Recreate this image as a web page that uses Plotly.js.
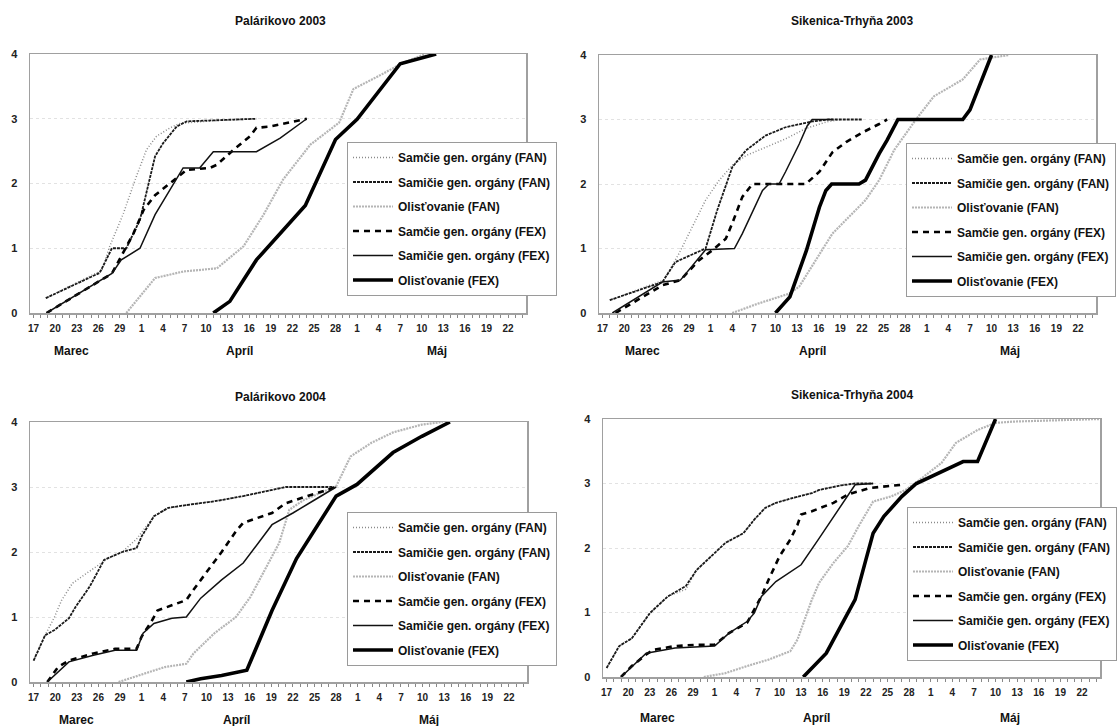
<!DOCTYPE html>
<html>
<head>
<meta charset="utf-8">
<script src="https://cdn.plot.ly/plotly-3.0.1.min.js"></script>
<style>html,body{margin:0;padding:0;background:#fff;}#chart{width:1120px;height:726px;}</style>
</head>
<body>
<div id="chart"></div>
<script>
// x = days after 17 March (0 = 17 Mar, 15 = 1 Apr, 45 = 1 May)
const xTickVals = [0,3,6,9,12,15,18,21,24,27,30,33,36,39,42,45,48,51,54,57,60,63,66];
const xTickText = ['17','20','23','26','29','1','4','7','10','13','16','19','22','25','28','1','4','7','10','13','16','19','22'];
const monthNames = ['Marec','Apríl','Máj'];
const seriesNames = ['Samčie gen. orgány (FAN)','Samičie gen. orgány (FAN)','Olisťovanie (FAN)',
                     'Samčie gen. orgány (FEX)','Samičie gen. orgány (FEX)','Olisťovanie (FEX)'];
const chartTitles = ['Palárikovo 2003','Sikenica-Trhyňa 2003','Palárikovo 2004','Sikenica-Trhyňa 2004'];

// Palárikovo 2003
const p03_d1 = [1.7, 9.5, 10.6, 12.5, 14.3, 15.7, 17.1, 19, 20.4, 25, 31];
const p03_v1 = [0.23, 0.66, 1.03, 1.54, 2.11, 2.52, 2.73, 2.86, 2.93, 2.97, 3.0];
const p03_d2 = [1.7, 9.2, 10.9, 12.9, 14.8, 16.9, 18, 19.9, 21.3, 27.3, 31];
const p03_v2 = [0.23, 0.62, 1.0, 1.0, 1.44, 2.42, 2.62, 2.88, 2.96, 2.98, 3.0];
const p03_d3 = [12.9, 16.9, 20.8, 25.5, 29.2, 32, 34.7, 38.5, 42.5, 44.5, 48, 51.5, 54.5];
const p03_v3 = [0, 0.54, 0.64, 0.69, 1.03, 1.52, 2.06, 2.6, 2.94, 3.46, 3.66, 3.87, 4.0];
const p03_d4 = [1.8, 10.9, 13.9, 15.3, 16.9, 19.9, 21.3, 24.5, 25.5, 27.8, 30.1, 31, 32.9, 38];
const p03_v4 = [0, 0.61, 1.23, 1.59, 1.82, 2.08, 2.21, 2.24, 2.29, 2.52, 2.73, 2.86, 2.88, 3.0];
const p03_d5 = [1.8, 10.9, 12.2, 14.8, 16.9, 20.8, 23.1, 25, 31, 34.3, 38];
const p03_v5 = [0, 0.61, 0.82, 1.0, 1.52, 2.24, 2.24, 2.49, 2.49, 2.7, 3.0];
const p03_d6 = [25, 26.2, 27.3, 29.2, 31, 37.8, 42, 45, 51, 56];
const p03_v6 = [0, 0.1, 0.18, 0.51, 0.82, 1.66, 2.68, 2.99, 3.85, 4.0];

// Sikenica-Trhyňa 2003
const s03_d1 = [1, 8.5, 10.6, 12.5, 14.3, 16.2, 18, 19.9, 22.6, 25.4, 28.2, 31, 33];
const s03_v1 = [0.2, 0.51, 0.92, 1.34, 1.75, 2.06, 2.29, 2.44, 2.57, 2.7, 2.86, 2.96, 3.0];
const s03_d2 = [1, 8.3, 10.1, 14.3, 15.9, 18, 19.9, 22.6, 25.4, 29.1, 31.4, 36];
const s03_v2 = [0.2, 0.48, 0.79, 1.0, 1.59, 2.26, 2.52, 2.75, 2.88, 2.97, 3.0, 3.0];
const s03_d3 = [18, 21.7, 25.9, 27.3, 29.6, 31.9, 34.2, 36.5, 38.4, 40.5, 43.5, 46, 50, 52.4, 56.4];
const s03_v3 = [0, 0.15, 0.3, 0.41, 0.82, 1.23, 1.49, 1.75, 2.06, 2.53, 3.0, 3.36, 3.62, 3.93, 4.0];
const s03_d4 = [1.8, 8.3, 10.8, 13.4, 15.2, 17.1, 18, 19.4, 20.8, 28.2, 30.1, 31.9, 33.8, 36.1, 38.4, 39.5];
const s03_v4 = [0, 0.43, 0.51, 0.82, 0.97, 1.15, 1.39, 1.8, 2.0, 2.0, 2.19, 2.49, 2.65, 2.8, 2.93, 3.0];
const s03_d5 = [1.35, 8.3, 10.8, 14.3, 18.3, 19.4, 22.2, 23.1, 24.5, 25.4, 27.3, 28.4, 29.1, 32];
const s03_v5 = [0, 0.48, 0.51, 0.98, 1.0, 1.23, 1.9, 2.0, 2.0, 2.19, 2.62, 2.9, 3.0, 3.0];
const s03_d6 = [24, 26, 28.3, 30.1, 31, 31.8, 35.6, 36.5, 38.4, 39.5, 41, 50, 51, 54];
const s03_v6 = [0, 0.25, 0.97, 1.64, 1.9, 2.0, 2.0, 2.06, 2.47, 2.68, 3.0, 3.0, 3.15, 4.0];

// Palárikovo 2004
const p04_d1 = [0, 1.6, 2.9, 3.9, 5.4, 8.3, 10.3, 12.3, 14.3, 16.7, 18.7, 21.7, 25.1, 29.1, 33.1, 35];
const p04_v1 = [0.33, 0.72, 1.0, 1.26, 1.52, 1.74, 1.9, 2.0, 2.2, 2.55, 2.68, 2.73, 2.78, 2.86, 2.96, 3.0];
const p04_d2 = [0, 1.6, 2.9, 4.9, 5.8, 7.8, 9.8, 12.3, 14.3, 15, 16.7, 18.7, 21.7, 25.1, 29.1, 33.1, 35, 41.5];
const p04_v2 = [0.33, 0.72, 0.8, 0.98, 1.15, 1.47, 1.88, 2.0, 2.06, 2.24, 2.55, 2.68, 2.73, 2.78, 2.86, 2.96, 3.0, 3.0];
const p04_d3 = [11.8, 16.2, 18.2, 21.2, 22.2, 25.1, 28.1, 30.1, 32.1, 34.1, 35.5, 37.5, 42, 44, 46.9, 49.9, 53.9, 56.8];
const p04_v3 = [0, 0.15, 0.23, 0.28, 0.44, 0.75, 1.0, 1.31, 1.72, 2.14, 2.65, 2.8, 3.01, 3.47, 3.68, 3.84, 3.96, 4.0];
const p04_d4 = [1.9, 3.4, 4.9, 8.3, 11.3, 14.3, 15, 16.2, 17.2, 21.2, 22.2, 24.2, 26.1, 28.1, 29.1, 33.1, 35, 38, 42];
const p04_v4 = [0, 0.23, 0.33, 0.44, 0.51, 0.51, 0.7, 0.9, 1.1, 1.26, 1.42, 1.72, 2.0, 2.32, 2.45, 2.6, 2.75, 2.86, 3.0];
const p04_d5 = [1.9, 4.9, 8.3, 11.3, 14.3, 15.2, 16.7, 19.2, 21.2, 23.2, 26.1, 29.1, 33.1, 36, 39, 42];
const p04_v5 = [0, 0.31, 0.41, 0.49, 0.49, 0.75, 0.9, 0.98, 1.0, 1.29, 1.57, 1.83, 2.42, 2.6, 2.8, 3.0];
const p04_d6 = [21.2, 23.2, 26.1, 29.6, 33.1, 36.5, 42, 44.9, 49.9, 53.9, 57.8];
const p04_v6 = [0, 0.05, 0.1, 0.18, 1.1, 1.9, 2.86, 3.04, 3.53, 3.78, 4.0];

// Sikenica-Trhyňa 2004
const s04_d1 = [0, 1.75, 3.5, 6, 8.5, 11, 12.5, 14.5, 16.5, 19, 20.5, 22, 23.5, 26, 28.5, 29.5, 32.5, 34.5];
const s04_v1 = [0.14, 0.48, 0.6, 0.99, 1.25, 1.36, 1.66, 1.87, 2.08, 2.23, 2.44, 2.62, 2.7, 2.78, 2.85, 2.9, 2.97, 3.0];
const s04_d2 = [0, 1.75, 3.5, 6, 8.5, 11, 12.5, 14.5, 16.5, 19, 20.5, 22, 23.5, 26, 28.5, 29.5, 32.5, 34.5, 37];
const s04_v2 = [0.14, 0.48, 0.6, 0.99, 1.25, 1.41, 1.66, 1.87, 2.08, 2.23, 2.44, 2.62, 2.7, 2.78, 2.85, 2.9, 2.97, 3.0, 3.0];
const s04_d3 = [13.5, 16.5, 19.5, 22.5, 25.5, 26.5, 27.5, 28.5, 29.5, 31.5, 33.5, 35, 37, 39.5, 41.5, 43.5, 46.5, 48.5, 51.5, 54, 56.5, 68.5];
const s04_v3 = [0, 0.06, 0.17, 0.27, 0.4, 0.58, 0.89, 1.2, 1.46, 1.77, 2.03, 2.34, 2.72, 2.8, 2.9, 3.06, 3.32, 3.63, 3.83, 3.94, 3.96, 4.0];
const s04_d4 = [2, 3.5, 5.5, 6.5, 9.5, 12.5, 15, 17, 19.5, 21.5, 22.5, 24, 25.5, 26.5, 27, 28.5, 31.5, 33.5, 36.5, 41];
const s04_v4 = [0, 0.17, 0.35, 0.42, 0.48, 0.5, 0.5, 0.68, 0.84, 1.25, 1.51, 1.87, 2.13, 2.36, 2.52, 2.57, 2.7, 2.83, 2.93, 2.98];
const s04_d5 = [2, 5.5, 9.5, 15, 17, 19.5, 20.5, 21.5, 23.5, 27, 29.5, 32.5, 34.5, 37];
const s04_v5 = [0, 0.37, 0.45, 0.48, 0.68, 0.86, 0.99, 1.25, 1.48, 1.74, 2.15, 2.65, 2.98, 3.0];
const s04_d6 = [27.3, 30.5, 33, 34.5, 36, 37, 38.5, 41, 43, 46.5, 49.5, 51.5, 54];
const s04_v6 = [0, 0.37, 0.89, 1.2, 1.82, 2.23, 2.49, 2.8, 3.0, 3.19, 3.34, 3.34, 4.0];

const FONT = '"Liberation Sans", Arial, sans-serif';
const lineStyles = [
  {color:'#8a8a8a', width:1.5, dash:'1px,2px'},
  {color:'#1a1a1a', width:1.8, dash:'3px,1px'},
  {color:'#b5b5b5', width:2.2, dash:'2px,1px'},
  {color:'#000000', width:2.6, dash:'6px,5px'},
  {color:'#111111', width:1.5, dash:'solid'},
  {color:'#000000', width:3.6, dash:'solid'}
];

const charts = [
  {xs:[p03_d1,p03_d2,p03_d3,p03_d4,p03_d5,p03_d6], ys:[p03_v1,p03_v2,p03_v3,p03_v4,p03_v5,p03_v6]},
  {xs:[s03_d1,s03_d2,s03_d3,s03_d4,s03_d5,s03_d6], ys:[s03_v1,s03_v2,s03_v3,s03_v4,s03_v5,s03_v6]},
  {xs:[p04_d1,p04_d2,p04_d3,p04_d4,p04_d5,p04_d6], ys:[p04_v1,p04_v2,p04_v3,p04_v4,p04_v5,p04_v6]},
  {xs:[s04_d1,s04_d2,s04_d3,s04_d4,s04_d5,s04_d6], ys:[s04_v1,s04_v2,s04_v3,s04_v4,s04_v5,s04_v6]}
];

// layout geometry (pixels)
const W = 1120, H = 726;
const boxes = [
  {l:30, r:526, t:54, b:313, legX:347, legY:142, titleX:280, titleY:21, monthY:351, monthX:[5.3,28.7,56.1]},
  {l:599, r:1096, t:55, b:313, legX:906, legY:143, titleX:852, titleY:21, monthY:351, monthX:[5.5,29.1,56.6]},
  {l:30, r:527, t:422, b:682, legX:347, legY:512, titleX:280, titleY:397, monthY:720, monthX:[6.0,28.1,54.9]},
  {l:603, r:1100, t:419, b:677, legX:907, legY:507, titleX:852, titleY:395, monthY:718, monthX:[7.0,29.2,56.0]}
];

const traces = [];
const layout = {
  width: W, height: H,
  margin: {l:0, r:0, t:0, b:0, autoexpand:false},
  paper_bgcolor: '#ffffff', plot_bgcolor: '#ffffff',
  font: {family: FONT, color: '#000'},
  annotations: [],
  hovermode: false
};

charts.forEach((c, i) => {
  const n = i + 1;
  const sfx = (n === 1 ? '' : String(n));
  const xa = 'xaxis' + sfx, ya = 'yaxis' + sfx;
  const lg = 'legend' + sfx;
  const bx = boxes[i];
  c.xs.forEach((xv, k) => {
    traces.push({
      type: 'scatter', mode: 'lines',
      x: xv, y: c.ys[k],
      name: seriesNames[k],
      line: lineStyles[k],
      xaxis: 'x' + sfx, yaxis: 'y' + sfx,
      legend: lg, legendgroup: 'g' + n + '_' + k,
      showlegend: true
    });
  });
  layout[xa] = {
    domain: [bx.l / W, bx.r / W], range: [-0.5, 68.5],
    anchor: 'y' + sfx,
    tickmode: 'array', tickvals: xTickVals, ticktext: xTickText,
    ticks: 'outside', ticklen: 3, tickcolor: '#888', tickwidth: 1,
    minor: {tickmode: 'linear', tick0: 0, dtick: 1, ticks: 'outside', ticklen: 3, tickcolor: '#888', showgrid: false},
    tickfont: {size: 10, family: FONT, weight: 'bold', color: '#222'},
    ticklabelstandoff: 2,
    showline: true, mirror: true, linecolor: '#a0a0a0', linewidth: 1.5,
    showgrid: false, zeroline: false, fixedrange: true
  };
  layout[ya] = {
    domain: [1 - bx.b / H, 1 - bx.t / H], range: [0, 4],
    anchor: 'x' + sfx,
    tickmode: 'array', tickvals: [0,1,2,3,4], ticktext: ['0','1','2','3','4'],
    ticks: '', tickfont: {size: 11, family: FONT, weight: 'bold', color: '#222'},
    ticklabelstandoff: 9,
    showline: true, mirror: true, linecolor: '#a0a0a0', linewidth: 1.5,
    showgrid: true, gridcolor: '#e2e2e2', griddash: 'dot', gridwidth: 1,
    zeroline: false, fixedrange: true
  };
  layout[lg] = {
    x: bx.legX / W, y: 1 - bx.legY / H, xanchor: 'left', yanchor: 'top',
    xref: 'paper', yref: 'paper',
    bgcolor: '#ffffff', bordercolor: '#9a9a9a', borderwidth: 1,
    font: {size: 12, family: FONT, weight: 'bold', color: '#111'},
    itemwidth: 40, traceorder: 'grouped', tracegroupgap: 5.5,
    itemclick: false, itemdoubleclick: false
  };
  layout.annotations.push({
    text: chartTitles[i], xref: 'paper', yref: 'paper',
    x: bx.titleX / W, y: 1 - bx.titleY / H, xanchor: 'center', yanchor: 'middle',
    showarrow: false, font: {size: 12, family: FONT, weight: 'bold', color: '#111'}
  });
  monthNames.forEach((m, j) => {
    layout.annotations.push({
      text: m, xref: 'x' + sfx, yref: 'paper',
      x: bx.monthX[j], y: 1 - bx.monthY / H, xanchor: 'center', yanchor: 'middle',
      showarrow: false, font: {size: 12, family: FONT, weight: 'bold', color: '#111'}
    });
  });
});

Plotly.newPlot('chart', traces, layout, {displayModeBar: false, staticPlot: true});
</script>
</body>
</html>
